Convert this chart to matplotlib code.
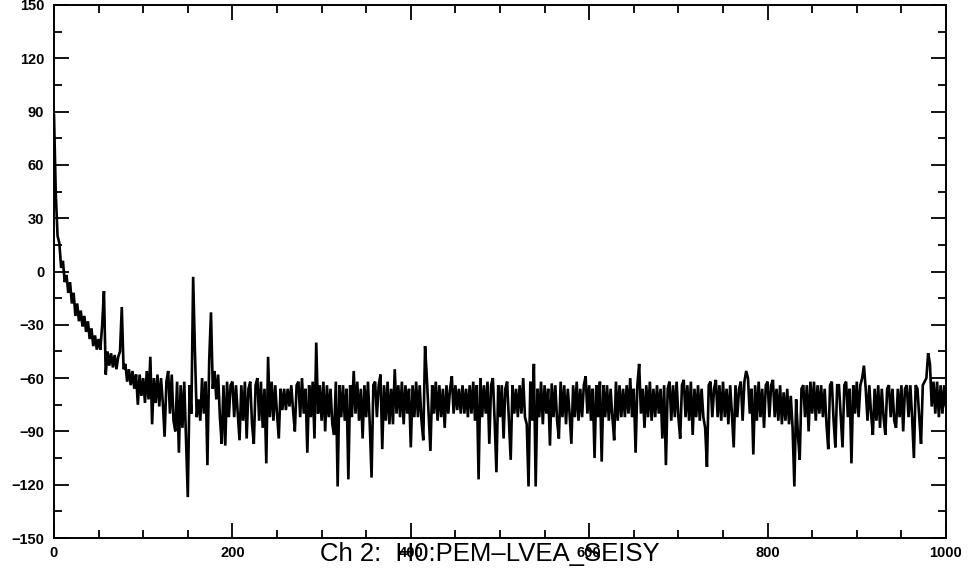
import numpy as np
import matplotlib
matplotlib.use("Agg")
import matplotlib.pyplot as plt
from matplotlib.ticker import MultipleLocator

# Frequency bins (Hz), sampled every 2 Hz from 0 to 1000
freq_start = 0
freq_stop = 1000
freq_step = 2

# Spectrum values (dB), 10 bins (20 Hz) per row
spectrum = [
    88, 44, 20, 16, 2, 6, -6, -2, -12, -6,
    -18, -12, -25, -18, -28, -22, -31, -25, -34, -28,
    -38, -32, -42, -36, -44, -38, -44, -30, -11, -58,
    -45, -53, -46, -54, -47, -55, -48, -45, -20, -55,
    -52, -62, -55, -64, -56, -66, -58, -75, -58, -70,
    -60, -74, -56, -72, -48, -86, -60, -74, -58, -76,
    -60, -74, -93, -62, -56, -80, -58, -84, -90, -62,
    -102, -64, -88, -62, -95, -127, -64, -80, -3, -45,
    -82, -72, -84, -60, -80, -62, -109, -50, -23, -66,
    -56, -72, -58, -82, -97, -64, -98, -62, -82, -64,
    -62, -82, -64, -80, -95, -64, -84, -62, -94, -66,
    -62, -86, -97, -64, -60, -84, -62, -88, -66, -108,
    -48, -82, -62, -84, -64, -80, -94, -66, -78, -66,
    -78, -66, -76, -64, -78, -90, -64, -62, -82, -60,
    -80, -66, -102, -64, -82, -62, -94, -40, -80, -64,
    -84, -62, -90, -64, -82, -66, -86, -92, -62, -121,
    -64, -82, -64, -84, -66, -117, -64, -82, -56, -80,
    -62, -84, -66, -94, -64, -82, -62, -86, -116, -64,
    -62, -82, -64, -58, -100, -64, -84, -62, -86, -66,
    -86, -55, -80, -64, -82, -62, -86, -64, -80, -66,
    -99, -64, -82, -62, -82, -64, -84, -95, -42, -60,
    -80, -101, -64, -80, -62, -84, -64, -82, -66, -88,
    -64, -80, -66, -59, -80, -64, -78, -66, -80, -64,
    -80, -66, -82, -64, -80, -62, -84, -64, -117, -60,
    -82, -64, -80, -62, -97, -64, -60, -84, -113, -64,
    -82, -64, -94, -66, -62, -84, -106, -64, -80, -66,
    -82, -64, -80, -60, -82, -86, -121, -62, -84, -52,
    -121, -66, -82, -62, -86, -64, -80, -66, -98, -63,
    -82, -64, -84, -94, -62, -82, -64, -86, -66, -80,
    -97, -64, -82, -62, -84, -66, -82, -64, -59, -80,
    -64, -84, -66, -105, -64, -82, -62, -107, -64, -82,
    -64, -84, -66, -82, -95, -62, -84, -64, -82, -66,
    -82, -64, -80, -60, -82, -66, -102, -64, -52, -80,
    -66, -88, -64, -82, -62, -84, -66, -82, -64, -80,
    -66, -94, -64, -109, -66, -62, -84, -64, -82, -62,
    -82, -94, -64, -61, -82, -64, -84, -62, -92, -66,
    -82, -64, -84, -66, -82, -88, -110, -64, -62, -82,
    -66, -61, -82, -64, -84, -62, -82, -66, -86, -64,
    -80, -99, -64, -82, -66, -62, -84, -62, -56, -60,
    -80, -66, -103, -64, -84, -62, -82, -66, -88, -64,
    -62, -82, -64, -61, -82, -66, -84, -64, -86, -68,
    -84, -66, -86, -70, -88, -121, -72, -92, -106, -66,
    -64, -82, -64, -90, -62, -80, -62, -84, -64, -80,
    -64, -82, -66, -86, -100, -64, -62, -84, -99, -64,
    -64, -82, -99, -64, -62, -82, -66, -108, -64, -80,
    -62, -82, -64, -60, -53, -66, -84, -64, -80, -92,
    -66, -84, -64, -88, -66, -82, -92, -66, -64, -82,
    -66, -84, -88, -66, -82, -64, -90, -66, -64, -82,
    -64, -82, -105, -64, -66, -82, -97, -64, -62, -60,
    -46, -52, -76, -62, -80, -62, -82, -64, -80, -64,
    -76,
]

x_ticks = [0, 200, 400, 600, 800, 1000]
y_ticks = [-150, -120, -90, -60, -30, 0, 30, 60, 90, 120, 150]
title_text = "Ch 2:  H0:PEM\u2013LVEA_SEISY"

freq = np.arange(freq_start, freq_stop + 1, freq_step)

fig = plt.figure(figsize=(9.70, 5.78), dpi=100)
W, H = 970, 578
left_px, right_px, top_px, bottom_px = 54, 946, 5, 538
ax = fig.add_axes([left_px / W, 1 - bottom_px / H,
                   (right_px - left_px) / W, (bottom_px - top_px) / H])

ax.plot(freq, spectrum, color="black", lw=1.9, solid_joinstyle="miter")

ax.set_xlim(0, 1000)
ax.set_ylim(-150, 150)
ax.set_xticks(x_ticks)
ax.set_yticks(y_ticks)
ax.xaxis.set_minor_locator(MultipleLocator(50))
ax.yaxis.set_minor_locator(MultipleLocator(15))

for s in ax.spines.values():
    s.set_linewidth(1.4)
    s.set_color("black")

ax.tick_params(which="both", direction="in", top=True, right=True,
               color="black", width=1.3)
ax.tick_params(which="major", length=11)
ax.tick_params(which="minor", length=6)
ax.tick_params(axis="y", which="major", pad=7)
ax.tick_params(axis="x", which="major", pad=6)

for lab in ax.get_xticklabels() + ax.get_yticklabels():
    lab.set_family("Liberation Sans")
    lab.set_fontweight("bold")
    lab.set_fontsize(10.5)

fig.text(0.505, 24 / H, title_text, ha="center", va="center",
         fontsize=18.5, family="Liberation Sans", color="black")

fig.savefig("out.png", dpi=100, facecolor="white")
